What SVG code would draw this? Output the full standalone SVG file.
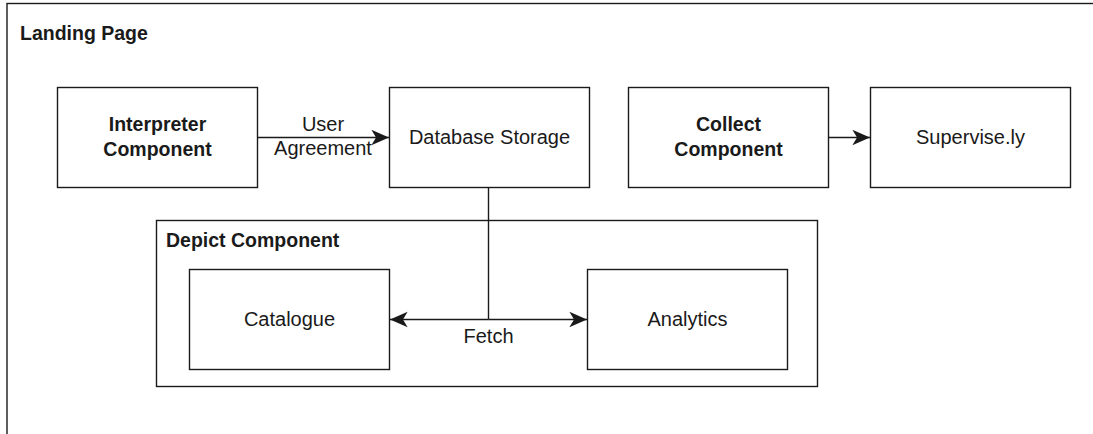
<svg xmlns="http://www.w3.org/2000/svg" width="1093" height="434" viewBox="0 0 1093 434">
<style>
.box{fill:#fff;stroke:#1a1a1a;stroke-width:1.4}
.frame{fill:none;stroke:#1a1a1a;stroke-width:1.4}
.t{font-family:"Liberation Sans",Arial,sans-serif;font-size:20px;fill:#1a1a1a}
.b{font-weight:bold;font-size:19.5px}
.c{text-anchor:middle}
.edge{fill:none;stroke:#1a1a1a;stroke-width:1.4}
</style>
<defs>
<marker id="arr" markerUnits="userSpaceOnUse" markerWidth="20" markerHeight="20" viewBox="-16 -8 17 16" refX="0" refY="0" orient="auto">
<path d="M0,0 L-15,-6.5 L-11,0 L-15,6.5 Z" fill="#1a1a1a"/>
</marker>
</defs>
<rect width="1093" height="434" fill="#fff"/>
<g id="landing-page">
<rect class="frame" x="7" y="3.5" width="1100" height="450"/>
<text class="t b" x="20" y="40">Landing Page</text>
</g>
<g id="depict-component">
<rect class="box" x="156.5" y="220.5" width="661" height="166"/>
<text class="t b" x="166" y="247">Depict Component</text>
</g>
<g id="interpreter">
<rect class="box" x="57.5" y="87.5" width="200" height="100"/>
<text class="t b c" x="157.5" y="131">Interpreter</text>
<text class="t b c" x="157.5" y="156">Component</text>
</g>
<g id="database">
<rect class="box" x="389.5" y="87.5" width="200" height="100"/>
<text class="t c" x="489.5" y="144">Database Storage</text>
</g>
<g id="collect">
<rect class="box" x="628.5" y="87.5" width="200" height="100"/>
<text class="t b c" x="728.5" y="131">Collect</text>
<text class="t b c" x="728.5" y="156">Component</text>
</g>
<g id="supervise">
<rect class="box" x="870.5" y="87.5" width="200" height="100"/>
<text class="t c" x="970.5" y="144">Supervise.ly</text>
</g>
<g id="catalogue">
<rect class="box" x="189.5" y="269.5" width="200" height="100"/>
<text class="t c" x="289.5" y="326">Catalogue</text>
</g>
<g id="analytics">
<rect class="box" x="587.5" y="269.5" width="200" height="100"/>
<text class="t c" x="687.5" y="326">Analytics</text>
</g>
<g id="connectors">
<line class="edge" x1="257.5" y1="137.5" x2="389" y2="137.5" marker-end="url(#arr)"/>
<text class="t c" x="323" y="131">User</text>
<text class="t c" x="323" y="155">Agreement</text>
<line class="edge" x1="828.5" y1="137.5" x2="870" y2="137.5" marker-end="url(#arr)"/>
<line class="edge" x1="488.5" y1="187.5" x2="488.5" y2="319.5"/>
<line class="edge" x1="488.5" y1="319.5" x2="390" y2="319.5" marker-end="url(#arr)"/>
<line class="edge" x1="488.5" y1="319.5" x2="587" y2="319.5" marker-end="url(#arr)"/>
<text class="t c" x="488.5" y="343">Fetch</text>
</g>
</svg>
